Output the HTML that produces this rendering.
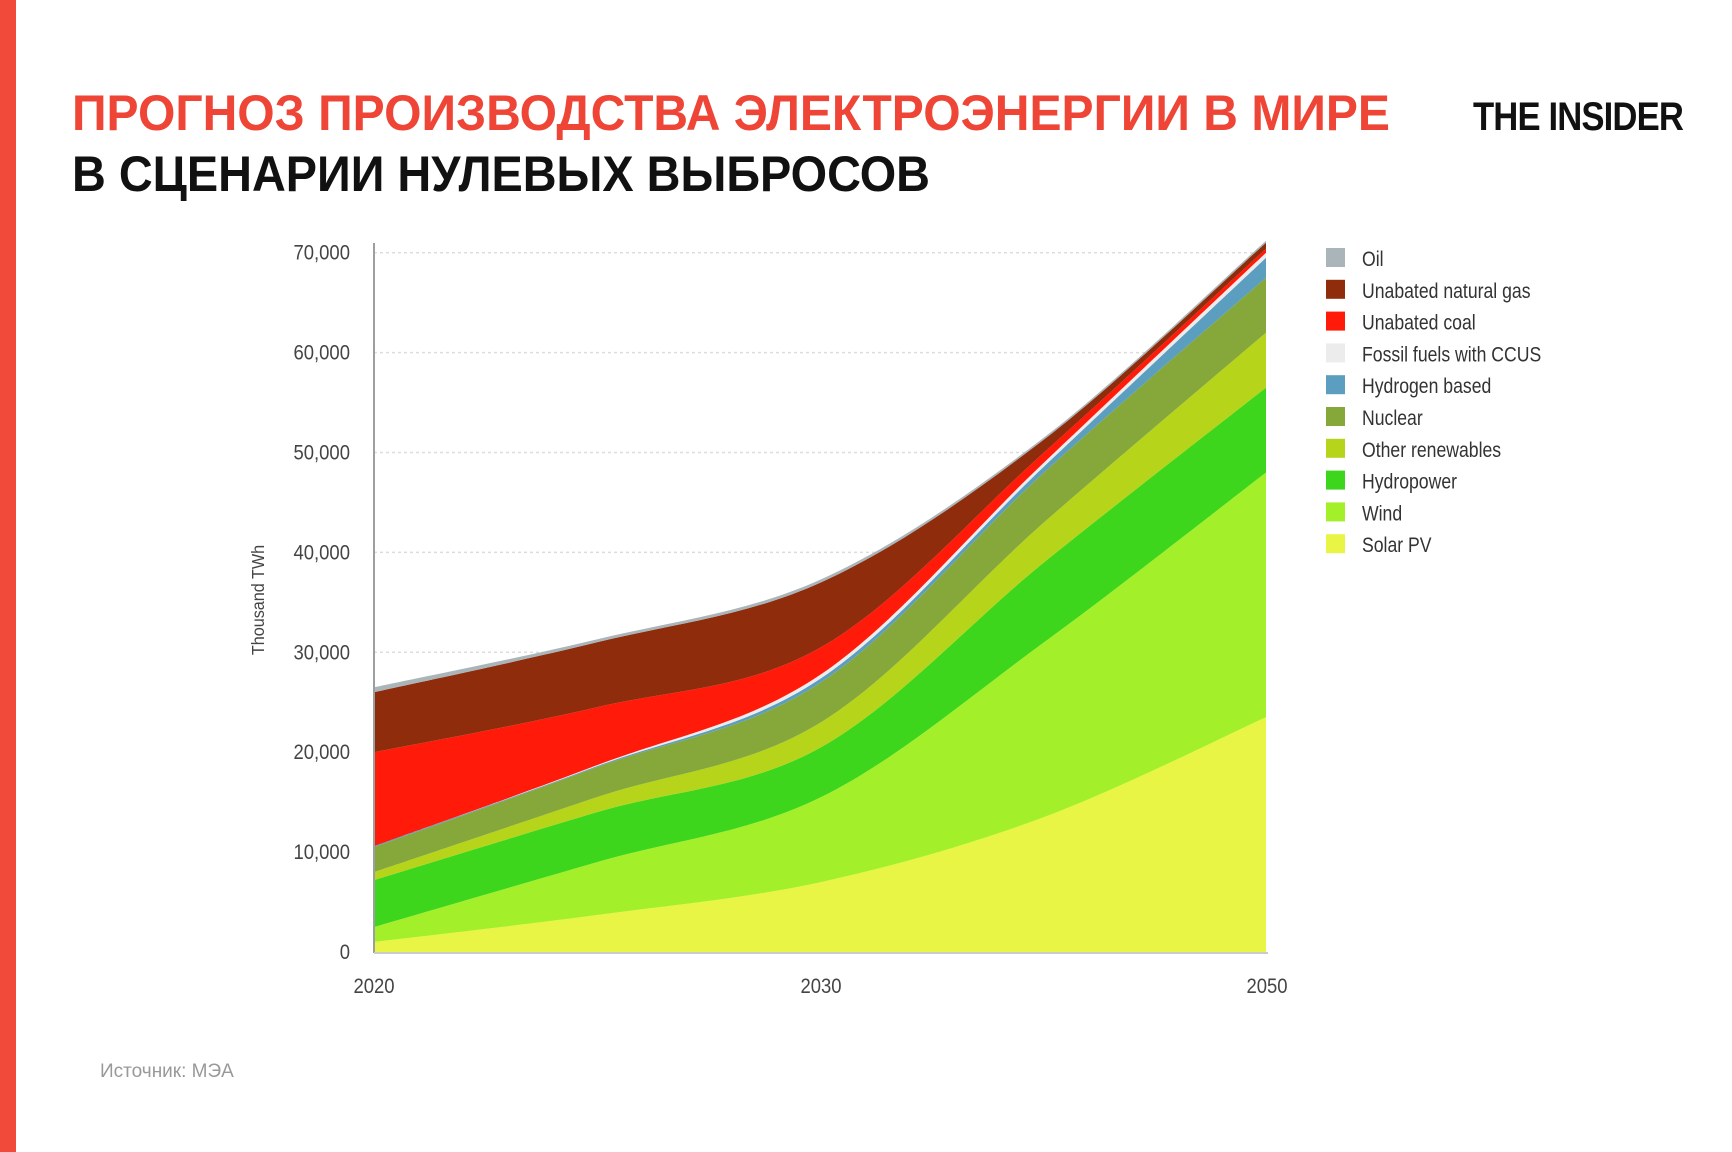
<!DOCTYPE html>
<html><head><meta charset="utf-8"><style>
html,body{margin:0;padding:0;background:#fff}
svg{display:block}
text{font-family:"Liberation Sans Narrow","Liberation Sans","DejaVu Sans Condensed",sans-serif}
</style></head><body>
<svg id="s" width="1732" height="1152" viewBox="0 0 1732 1152" xmlns="http://www.w3.org/2000/svg">
<rect width="1732" height="1152" fill="#fff"/>
<rect x="0" y="0" width="16" height="1152" fill="#f24a3a"/>
<text x="72" y="130" font-size="50" font-weight="bold" fill="#ee4536" textLength="1318" lengthAdjust="spacingAndGlyphs">ПРОГНОЗ ПРОИЗВОДСТВА ЭЛЕКТРОЭНЕРГИИ В МИРЕ</text>
<text x="72" y="191" font-size="50" font-weight="bold" fill="#111" textLength="858" lengthAdjust="spacingAndGlyphs">В СЦЕНАРИИ НУЛЕВЫХ ВЫБРОСОВ</text>
<text x="1473" y="130" font-size="40" font-weight="bold" fill="#111" textLength="210" lengthAdjust="spacingAndGlyphs" letter-spacing="-1">THE INSIDER</text>
<g id="grid" stroke="#ddd" stroke-width="1.5" stroke-dasharray="3,3"></g>
<g id="areas"></g>
<line x1="374" y1="243" x2="374" y2="953" stroke="#9aa0a0" stroke-width="2"/>
<line x1="374" y1="953" x2="1268" y2="953" stroke="#c8cccc" stroke-width="2"/>
<g id="ylab" font-size="21" fill="#444" text-anchor="end"></g>
<g font-size="21" fill="#444" text-anchor="middle">
<text x="374" y="993" transform="translate(374,0) scale(0.88,1) translate(-374,0)">2020</text>
<text x="821" y="993" transform="translate(821,0) scale(0.88,1) translate(-821,0)">2030</text>
<text x="1267" y="993" transform="translate(1267,0) scale(0.88,1) translate(-1267,0)">2050</text>
</g>
<text transform="translate(264,600) rotate(-90) scale(0.9,1)" font-size="18" fill="#444" text-anchor="middle">Thousand TWh</text>
<g id="leg" font-size="21" fill="#333"></g>
<text x="100" y="1077" font-size="19" fill="#999">Источник: МЭА</text>
</svg>
<script>
var NS="http://www.w3.org/2000/svg",s=document.getElementById('s');
function el(p,t,a,txt){var e=document.createElementNS(NS,t);for(var k in a)e.setAttribute(k,a[k]);if(txt)e.textContent=txt;(typeof p=='string'?document.getElementById(p):p).appendChild(e);return e;}
var y0=952,k=99.9/10;
function Y(v){return y0-v*k;}
for(var i=0;i<=7;i++){var y=Y(i*10);if(i>0)el('grid','line',{x1:374,x2:1266,y1:y,y2:y});
el('ylab','text',{x:350,y:y+7,transform:'translate(350,0) scale(0.88,1) translate(-350,0)'},i==0?'0':(i*10)+',000');}
var X=[374,597,821,1044,1266];
var series=[
["Solar PV","#e9f545",[1.0,3.7,7,13.5,23.5]],
["Wind","#a3f02a",[2.5,9,15.5,31,48]],
["Hydropower","#3dd61c",[7.2,14,20.5,39,56.5]],
["Other renewables","#b5d41a",[8,15.5,23,43,62]],
["Nuclear","#86a83a",[10.5,18.5,27,48,67.5]],
["Hydrogen based","#5b9ec0",[10.6,18.6,27.4,48.6,69.5]],
["Fossil fuels with CCUS","#ececec",[10.6,18.7,27.8,49,70]],
["Unabated coal","#ff1a0a",[20,24.5,30.5,50,70.4]],
["Unabated natural gas","#8f2c0c",[26,31,37,51.3,71]],
["Oil","#a9b5b8",[26.5,31.3,37.3,51.5,71.2]]];
function curve(v,rev){var P=X.map(function(x,i){return [x,Y(v[i])];});if(rev)P.reverse();
var d='';for(var i=0;i<P.length-1;i++){var p0=P[Math.max(i-1,0)],p1=P[i],p2=P[i+1],p3=P[Math.min(i+2,P.length-1)];
var c1=[p1[0]+(p2[0]-p0[0])/6,p1[1]+(p2[1]-p0[1])/6],c2=[p2[0]-(p3[0]-p1[0])/6,p2[1]-(p3[1]-p1[1])/6];
d+=' C'+c1[0]+','+c1[1]+' '+c2[0]+','+c2[1]+' '+p2[0]+','+p2[1];}return {s:P[0],d:d};}
var prev=[0,0,0,0,0];
series.forEach(function(sr){var t=curve(sr[2],false),b=curve(prev,true);
var d='M'+t.s[0]+','+t.s[1]+t.d+' L'+b.s[0]+','+b.s[1]+b.d+' Z';
el('areas','path',{d:d,fill:sr[1]});prev=sr[2];});
var leg=series.slice().reverse();
var lg=document.getElementById('leg');
var tg=el(lg,'g',{transform:'translate(1362,0) scale(0.84,1)'});
leg.forEach(function(sr,i){var y=258+i*31.8;el(lg,'rect',{x:1326,y:y-10,width:19,height:19,fill:sr[1]});
el(tg,'text',{x:0,y:y+8},sr[0]);});
</script>
</body></html>
